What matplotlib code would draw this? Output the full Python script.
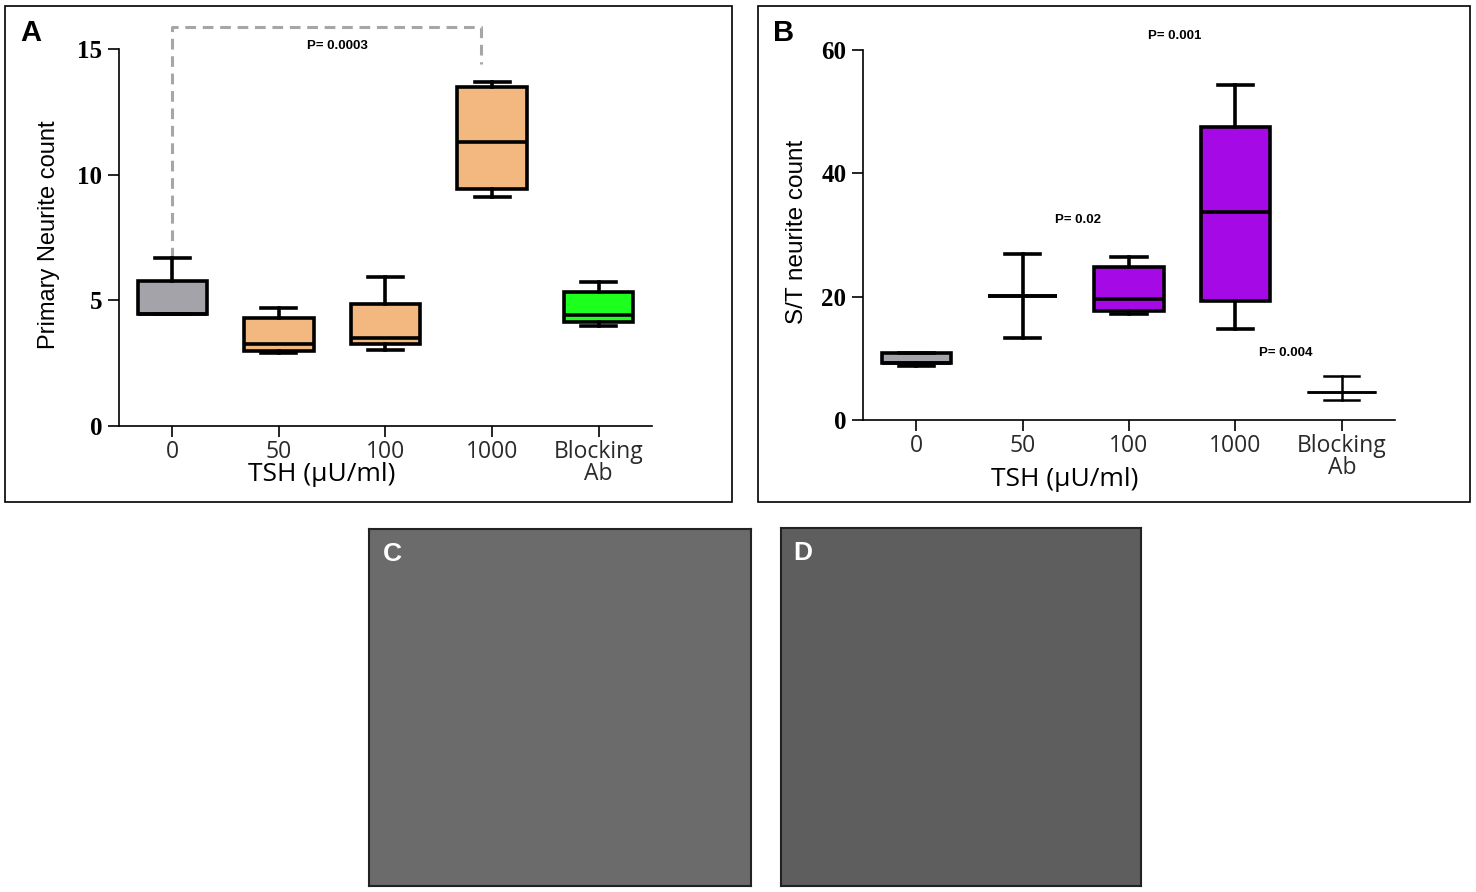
import numpy as np
import matplotlib
matplotlib.use("Agg")
import matplotlib.pyplot as plt
from matplotlib.patches import Rectangle

categories = ["0", "50", "100", "1000", "Blocking\nAb"]

# panel A: primary neurite count
a_whislo = [4.45, 2.90, 3.02, 9.11, 3.98]
a_q1 = [4.45, 2.98, 3.26, 9.43, 4.14]
a_med = [4.45, 3.26, 3.50, 11.30, 4.42]
a_q3 = [5.77, 4.30, 4.85, 13.49, 5.33]
a_whishi = [6.69, 4.70, 5.93, 13.69, 5.73]
a_colors = ["#a3a3a9", "#f3b87f", "#f3b87f", "#f3b87f", "#1dff1d"]

# panel B: S/T neurite count
b_whislo = [8.8, 13.3, 17.2, 14.7, 3.2]
b_q1 = [9.3, 20.1, 17.7, 19.3, 4.5]
b_med = [9.3, 20.1, 19.7, 33.7, 4.5]
b_q3 = [10.9, 20.1, 24.8, 47.5, 4.5]
b_whishi = [10.9, 26.9, 26.5, 54.3, 7.2]
b_colors = ["#a3a3a9", "#ffffff", "#a50ae6", "#a50ae6", "#ffffff"]

a_bracket_x = [0, 0, 2.9, 2.9]
a_bracket_y = [6.69, 15.88, 15.88, 14.4]
a_pvalue = ("P= 0.0003", 1.55, 15.1)
b_pvalues = [("P= 0.001", 2.43, 62.2), ("P= 0.02", 1.52, 32.4), ("P= 0.004", 3.47, 10.9)]

W, H = 1476, 892
fig = plt.figure(figsize=(W / 100, H / 100), dpi=100)


def px_box(x0, y0, x1, y1):
    return [x0 / W, 1 - y1 / H, (x1 - x0) / W, (y1 - y0) / H]


def make_stats(whislo, q1, med, q3, whishi):
    stats = []
    for i in range(len(med)):
        stats.append({
            "whislo": whislo[i], "q1": q1[i], "med": med[i],
            "q3": q3[i], "whishi": whishi[i], "fliers": [],
        })
    return stats


def draw_boxes(ax, stats, colors, lw=2.6):
    parts = ax.bxp(
        stats,
        positions=range(len(stats)),
        widths=0.65,
        patch_artist=True,
        showfliers=False,
        boxprops=dict(linewidth=lw, edgecolor="black"),
        medianprops=dict(color="black", linewidth=lw, solid_capstyle="butt"),
        whiskerprops=dict(color="black", linewidth=lw),
        capprops=dict(color="black", linewidth=lw),
        capwidths=0.33,
    )
    for patch, c in zip(parts["boxes"], colors):
        patch.set_facecolor(c)
    return parts


def style_axes(ax, ymax, yticks):
    ax.set_xlim(-0.5, 4.5)
    ax.set_ylim(0, ymax)
    ax.set_yticks(yticks)
    ax.set_xticks(range(len(categories)))
    ax.set_xticklabels(categories, fontsize=16.5, color="#2a2a2a",
                       family="Open Sans", linespacing=0.9)
    for lab in ax.get_yticklabels():
        lab.set_family("Liberation Serif")
        lab.set_fontweight("bold")
        lab.set_fontsize(18)
    ax.spines["top"].set_visible(False)
    ax.spines["right"].set_visible(False)
    ax.spines["left"].set_linewidth(1.2)
    ax.spines["bottom"].set_linewidth(1.2)
    ax.tick_params(axis="both", direction="out", length=8, width=1.2)
    ax.tick_params(axis="x", pad=2)
    ax.tick_params(axis="y", pad=4)


# frames around panels A and B
fig.patches.append(Rectangle((5 / W, 1 - 502 / H), 727 / W, 496 / H,
                             transform=fig.transFigure, fill=False,
                             edgecolor="black", linewidth=1.2))
fig.patches.append(Rectangle((758 / W, 1 - 502 / H), 712 / W, 496 / H,
                             transform=fig.transFigure, fill=False,
                             edgecolor="black", linewidth=1.2))

# panel A
ax_a = fig.add_axes(px_box(119, 49, 652, 426))
draw_boxes(ax_a, make_stats(a_whislo, a_q1, a_med, a_q3, a_whishi), a_colors)
style_axes(ax_a, 15, [0, 5, 10, 15])
ax_a.plot(a_bracket_x, a_bracket_y, color="#a6a6a6", linewidth=2.2,
          linestyle=(0, (3.5, 2.2)), clip_on=False, zorder=1)
ax_a.text(a_pvalue[1], a_pvalue[2], a_pvalue[0], fontsize=9.5, fontweight="bold",
          ha="center", va="center", family="Liberation Sans")
ax_a.set_xlabel("TSH (µU/ml)", fontsize=19, family="Open Sans")
ax_a.xaxis.set_label_coords((322 - 119) / (652 - 119), -(475 - 426) / (426 - 49), transform=ax_a.transAxes)
ax_a.xaxis.label.set_va("center")
ax_a.set_ylabel("Primary Neurite count", fontsize=17, family=["Liberation Sans Narrow", "Liberation Sans"])
ax_a.yaxis.set_label_coords(-(119 - 49) / (652 - 119), (426 - 235) / (426 - 49), transform=ax_a.transAxes)
ax_a.yaxis.label.set_va("center")
fig.text(31 / W, 1 - 33 / H, "A", fontsize=21, fontweight="bold", ha="center", va="center",
         family="Liberation Sans")

# panel B
ax_b = fig.add_axes(px_box(863, 50, 1395, 420))
parts_b = draw_boxes(ax_b, make_stats(b_whislo, b_q1, b_med, b_q3, b_whishi), b_colors)
# blocking antibody group drawn with thinner lines
parts_b["boxes"][4].set_linewidth(1.8)
parts_b["medians"][4].set_linewidth(1.8)
for line in parts_b["whiskers"][8:10] + parts_b["caps"][8:10]:
    line.set_linewidth(1.8)
style_axes(ax_b, 60, [0, 20, 40, 60])
for label, x, y in b_pvalues:
    ax_b.text(x, y, label, fontsize=9.5, fontweight="bold", ha="center", va="center",
              family="Liberation Sans", clip_on=False)
ax_b.set_xlabel("TSH (µU/ml)", fontsize=19, family="Open Sans")
ax_b.xaxis.set_label_coords((1065 - 863) / (1395 - 863), -(480 - 420) / (420 - 50), transform=ax_b.transAxes)
ax_b.xaxis.label.set_va("center")
ax_b.set_ylabel("S/T neurite count", fontsize=17.5, family="Liberation Sans")
ax_b.yaxis.set_label_coords(-(863 - 797) / (1395 - 863), (420 - 232) / (420 - 50), transform=ax_b.transAxes)
ax_b.yaxis.label.set_va("center")
fig.text(784 / W, 1 - 33 / H, "B", fontsize=21, fontweight="bold", ha="center", va="center",
         family="Liberation Sans")

# micrograph panels C and D (shown as plain grey fields)
for (x0, y0, x1, y1), shade, letter in [((369, 529, 751, 886), "#6b6b6b", "C"),
                                        ((781, 528, 1141, 886), "#5e5e5e", "D")]:
    ax_img = fig.add_axes(px_box(x0, y0, x1, y1))
    ax_img.set_facecolor(shade)
    ax_img.set_xticks([])
    ax_img.set_yticks([])
    for sp in ax_img.spines.values():
        sp.set_linewidth(1.5)
        sp.set_color("#222222")
    ax_img.text(0.06, 0.93, letter, transform=ax_img.transAxes, color="white",
                fontsize=19, fontweight="bold", ha="center", va="center",
                family="Liberation Sans")

fig.savefig("out.png", dpi=100)
